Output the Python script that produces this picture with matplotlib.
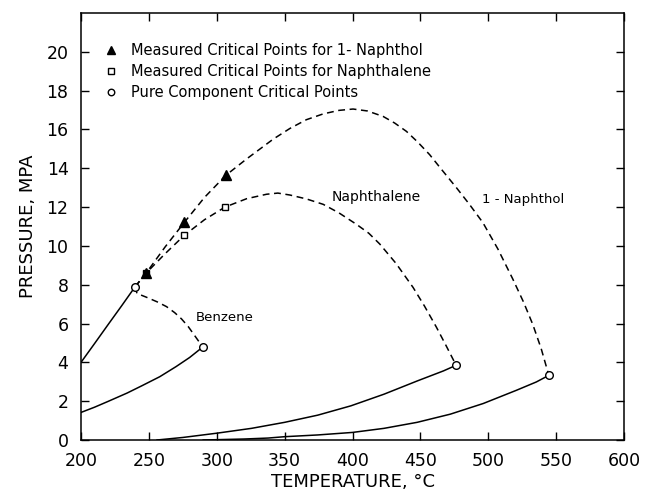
import matplotlib
matplotlib.use("Agg")
import matplotlib.pyplot as plt

plt.rcParams['font.family'] = 'DejaVu Sans'

# vapour pressure curves (solid)
methanol_T = [200, 210, 220, 230, 239.9]
methanol_P = [4.0, 4.97, 5.95, 6.92, 7.9]

benzene_T = [200, 210, 220, 234, 245, 258, 270, 280, 289.7]
benzene_P = [1.42, 1.69, 1.99, 2.42, 2.8, 3.26, 3.78, 4.25, 4.79]

naph_T = [256, 275, 300, 325.6, 350, 374.4, 398.8, 423.2, 447.6, 467, 476.3]
naph_P = [0.0, 0.13, 0.35, 0.6, 0.91, 1.28, 1.76, 2.36, 3.04, 3.56, 3.85]

naphthol_T = [290, 320, 337.8, 350, 374.4, 400, 423.2, 447.6, 472, 496.3, 520.7, 535.4, 544.6]
naphthol_P = [0.0, 0.05, 0.1, 0.17, 0.26, 0.39, 0.6, 0.91, 1.33, 1.88, 2.56, 2.99, 3.33]

# critical loci (dashed)
benz_loc_T = [239.9, 241.2, 248, 256, 263, 269, 274, 279, 284, 289.7]
benz_loc_P = [7.9, 7.55, 7.36, 7.12, 6.87, 6.56, 6.24, 5.84, 5.35, 4.79]

naph_loc_T = [239.9, 248, 262, 276, 291, 306.1, 322, 336.7, 345, 353.9, 366,
              378.4, 390, 402.9, 412, 420, 432, 444.6, 453, 461.8, 469, 476.3]
naph_loc_P = [7.9, 8.6, 9.6, 10.54, 11.35, 12.0, 12.43, 12.66, 12.72, 12.62, 12.42,
              12.14, 11.7, 11.11, 10.65, 10.1, 9.1, 7.86, 6.9, 5.81, 4.85, 3.85]

naphthol_loc_T = [239.9, 248, 262, 276.2, 291, 306.6, 322, 341.6, 353.9, 366, 378.4,
                  390, 400.4, 411, 422.5, 431, 439.7, 448, 456.8, 466, 476.5, 486,
                  496, 507, 518, 526, 532.8, 539, 544.6]
naphthol_loc_P = [7.9, 8.6, 9.95, 11.22, 12.5, 13.63, 14.48, 15.5, 16.05, 16.5, 16.8,
                  16.98, 17.05, 16.95, 16.67, 16.33, 15.9, 15.35, 14.7, 13.9, 13.0, 12.15,
                  11.2, 9.85, 8.3, 7.1, 5.95, 4.7, 3.33]

# measured and pure component critical points
meas_naphthol_T = [248, 276.2, 306.6]
meas_naphthol_P = [8.6, 11.22, 13.63]
meas_naph_T = [248, 276, 306.1]
meas_naph_P = [8.6, 10.54, 12.0]
pure_T = [239.9, 289.7, 476.3, 544.6]
pure_P = [7.9, 4.79, 3.85, 3.33]

fig = plt.figure(figsize=(6.45, 4.92), dpi=100)
ax = fig.add_axes([0.1256, 0.1057, 0.8419, 0.868])

lw = 1.1
dash = (4.5, 3)
for T, P in [(methanol_T, methanol_P), (benzene_T, benzene_P),
             (naph_T, naph_P), (naphthol_T, naphthol_P)]:
    ax.plot(T, P, color='black', lw=lw, zorder=2)
for T, P in [(benz_loc_T, benz_loc_P), (naph_loc_T, naph_loc_P),
             (naphthol_loc_T, naphthol_loc_P)]:
    ax.plot(T, P, color='black', lw=lw, dashes=dash, zorder=2)

tri, = ax.plot(meas_naphthol_T, meas_naphthol_P, ls='none', marker='^', ms=6.5,
               mfc='black', mec='black', zorder=4,
               label='Measured Critical Points for 1- Naphthol')
sq, = ax.plot(meas_naph_T[1:], meas_naph_P[1:], ls='none', marker='s', ms=5,
              mfc='white', mec='black', mew=1.0, zorder=3,
              label='Measured Critical Points for Naphthalene')
ax.plot(meas_naph_T[:1], meas_naph_P[:1], ls='none', marker='s', ms=5,
        mfc='black', mec='black', zorder=3)
circ, = ax.plot(pure_T, pure_P, ls='none', marker='o', ms=5.5,
                mfc='white', mec='black', mew=1.0, zorder=5,
                label='Pure Component Critical Points')

ax.text(305.5, 6.3, 'Benzene', fontsize=9.5, ha='center', va='center')
ax.text(417.6, 12.5, 'Naphthalene', fontsize=10, ha='center', va='center')
ax.text(525.4, 12.4, '1 - Naphthol', fontsize=9.5, ha='center', va='center')

ax.legend(handles=[tri, sq, circ], loc='upper left', bbox_to_anchor=(0.042, 0.929),
          frameon=False, fontsize=10.5, handlelength=1.0, handletextpad=0.87,
          borderpad=0, borderaxespad=0, labelspacing=0.4, markerscale=0.85)

ax.set_xlim(200, 600)
ax.set_ylim(0, 22)
ax.set_xticks(range(200, 601, 50))
ax.set_yticks(range(0, 21, 2))
ax.tick_params(direction='in', top=True, right=True, length=6, width=1,
               labelsize=12.5, pad=9)
ax.set_xlabel('TEMPERATURE, °C', fontsize=13, labelpad=2)
ax.set_ylabel('PRESSURE, MPA', fontsize=13, labelpad=7)
for s in ax.spines.values():
    s.set_linewidth(1.1)

fig.savefig('out.png', dpi=100)
